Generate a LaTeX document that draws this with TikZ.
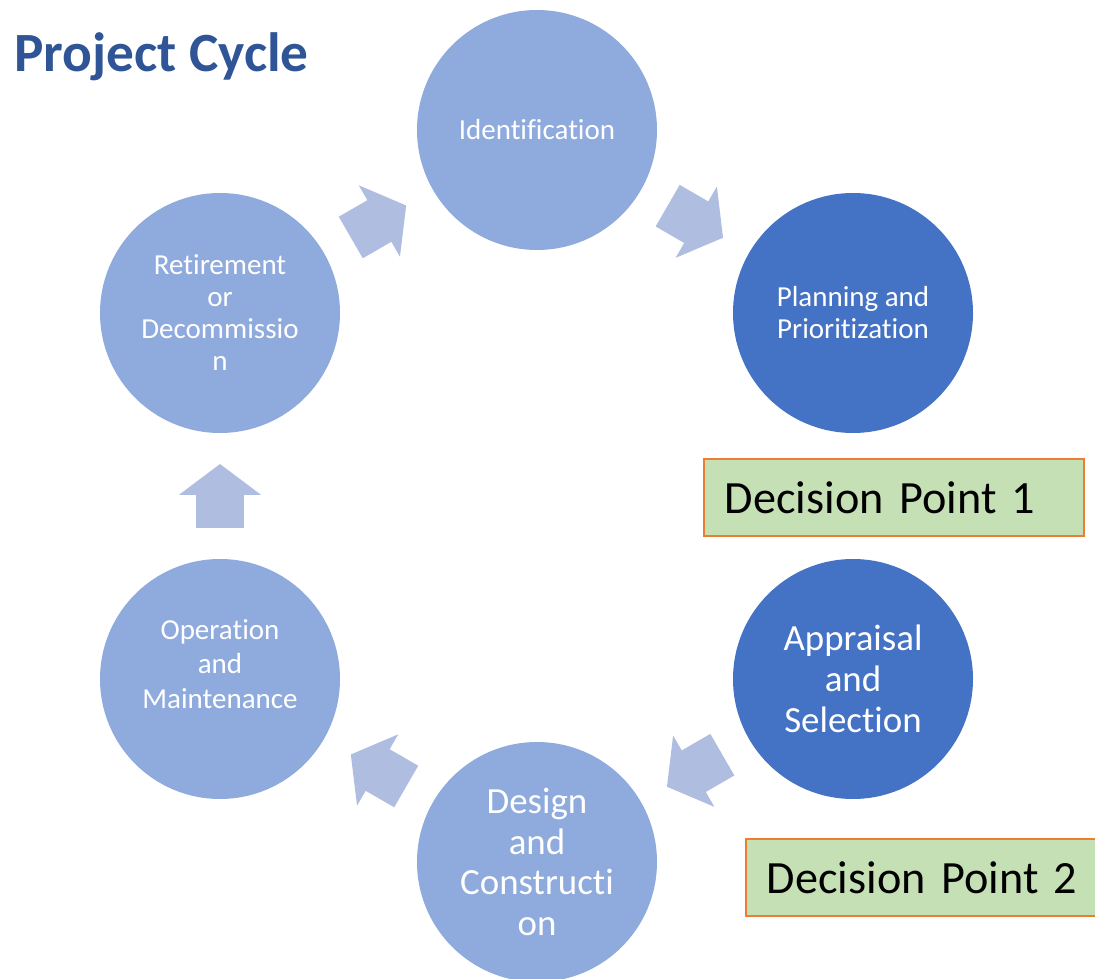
\documentclass[tikz,border=0pt]{standalone}
\usepackage{fontspec}
\setmainfont[Ligatures=NoCommon]{Carlito}
\usepackage{xcolor}
\usepackage{tikz}
\usetikzlibrary{arrows.meta,calc,positioning}
\definecolor{phaselight}{HTML}{8FAADC}
\definecolor{phasedark}{HTML}{4472C4}
\definecolor{flowblue}{HTML}{AFBDE0}
\definecolor{titleblue}{HTML}{2F5597}
\definecolor{dpgreen}{HTML}{C5E0B4}
\definecolor{dporange}{HTML}{ED7D31}
\newcommand{\smallphase}{\fontsize{16.5}{18.2}\selectfont}
\newcommand{\bigphase}{\fontsize{21}{23.2}\selectfont}

\begin{document}
\begin{tikzpicture}[
              phase/.style={circle, minimum size=4.8cm, inner sep=0pt, fill=phaselight,
                            text=white, align=center, font=\smallphase},
              keyphase/.style={phase, fill=phasedark},
              flow/.style={line width=0.96cm, flowblue,
                           -{Triangle[width=1.64cm, length=0.62cm, line width=1.5pt]}},
              dpbox/.style={draw=dporange, line width=1.1pt, fill=dpgreen, anchor=north west,
                            minimum height=1.54cm, text width=6.76cm, inner xsep=0.42cm,
                            align=left, font=\fontsize{26.3}{30}\selectfont},
             ]
\clip (0,0) rectangle (21.9,-19.58);

\node[anchor=base west, inner sep=0pt, text=titleblue,
      font=\bfseries\fontsize{31.5}{36}\selectfont] (title) at (0.28,-1.44) {Project Cycle};

% the six phases
\node[phase] (ide) at (10.74,-2.60) {Identification};
\node[keyphase] (pla) at (17.06,-6.26) {Planning and\\Prioritization};
\node[keyphase, font=\bigphase] (app) at (17.06,-13.58) {Appraisal\\and\\Selection};
\node[phase, font=\bigphase] (des) at (10.74,-17.24) {Design\\and\\Constructi\\on};
\node[phase, label={[text=white, align=center, yshift=0.3cm,
      font=\fontsize{16.5}{19.8}\selectfont]center:Operation\\and\\Maintenance}] (ope) at (4.40,-13.58) {};
\node[phase] (ret) at (4.40,-6.26) {Retirement\\or\\Decommissio\\n};

% block arrows between neighbours
\draw[flow] ($(ret)!3.02cm!(ide)$) -- ($(ret)!4.30cm!(ide)$);
\draw[flow] ($(ide)!3.02cm!(pla)$) -- ($(ide)!4.30cm!(pla)$);
\draw[flow] ($(app)!3.02cm!(des)$) -- ($(app)!4.30cm!(des)$);
\draw[flow] ($(des)!3.02cm!(ope)$) -- ($(des)!4.30cm!(ope)$);
\draw[flow] ($(ope)!3.02cm!(ret)$) -- ($(ope)!4.30cm!(ret)$);

\node[dpbox] (dp1) at (14.06,-9.16) {Decision Point 1};
\node[dpbox] (dp2) at (14.90,-16.76) {Decision Point 2};
\end{tikzpicture}
\end{document}
